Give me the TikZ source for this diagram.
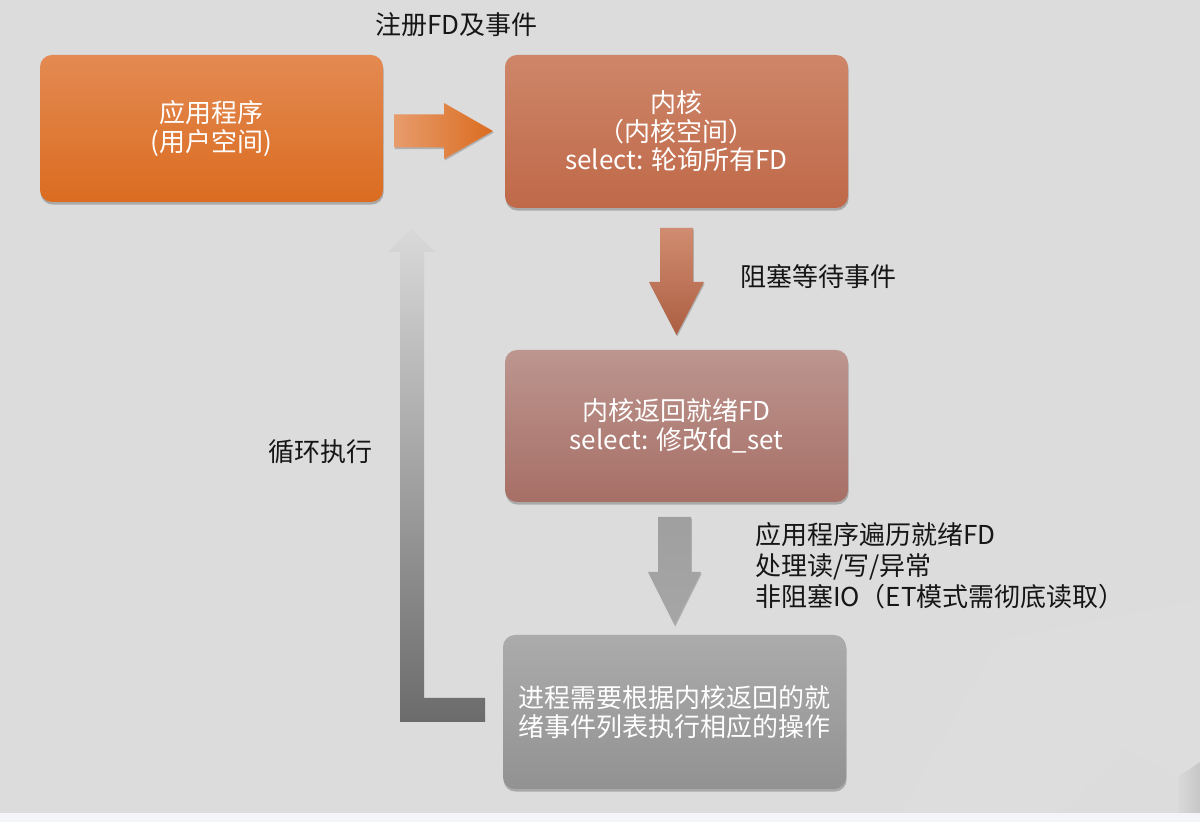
\documentclass[tikz,border=0pt]{standalone}
\usepackage{fontspec}
\setmainfont{Noto Sans CJK SC}
\usetikzlibrary{calc,shadows}
\definecolor{bgc}{HTML}{DCDCDC}
\definecolor{stripc}{HTML}{F4F5F8}
\definecolor{oTop}{HTML}{E38A52}
\definecolor{oBot}{HTML}{DB6C20}
\definecolor{kTop}{HTML}{CE8669}
\definecolor{kBot}{HTML}{BF6949}
\definecolor{sTop}{HTML}{BC968F}
\definecolor{sBot}{HTML}{A76F66}
\definecolor{gTop}{HTML}{ABABAB}
\definecolor{gBot}{HTML}{929292}
\definecolor{txt}{HTML}{161616}
\tikzset{
  boxbase/.style={rectangle, rounded corners=6pt, inner sep=0pt, outer sep=0pt,
    minimum width=171.5pt, text=white, align=center,
    font=\fontsize{13pt}{14.25pt}\selectfont,
    drop shadow={shadow xshift=0.3pt, shadow yshift=-1.3pt, opacity=0.35, fill=black!70}},
  lbl/.style={inner sep=0pt, outer sep=0pt, text=txt, align=left,
    font=\fontsize{13pt}{15.5pt}\selectfont},
  arrshadow/.style={drop shadow={shadow xshift=0.4pt, shadow yshift=-0.8pt, opacity=0.3, fill=black!70}}
}
\begin{document}
\begin{tikzpicture}[x=0.5pt,y=-0.5pt]
  % background
  \fill[bgc] (0,0) rectangle (1200,822);
  \fill[white, opacity=0.05] (900,813) -- (1000,640) -- (1200,600) -- (1200,762) -- (1178,777) -- (1123,747) -- (1060,813) -- cycle;
  \path[left color=black!15, right color=black!22] (1178,777) -- (1200,762) -- (1200,813) -- (1178,813) -- cycle;
  \fill[stripc] (0,813) rectangle (1200,822);
  \useasboundingbox (0,0) rectangle (1200,822);

  % boxes
  \node[boxbase, minimum height=73.5pt, top color=oTop, bottom color=oBot]
    (app) at (211.5,128.5) {应用程序\\(用户空间)};
  \node[boxbase, minimum height=76.5pt, top color=kTop, bottom color=kBot]
    (kern) at (676.5,131.5) {内核\\（内核空间）\\select: 轮询所有FD};
  \node[boxbase, minimum height=76pt, top color=sTop, bottom color=sBot]
    (sel) at (676.5,426) {内核返回就绪FD\\select: 修改fd\_set};
  \node[boxbase, minimum height=77pt, top color=gTop, bottom color=gBot]
    (proc) at (674.5,712) {进程需要根据内核返回的就\\绪事件列表执行相应的操作};

  % right block arrow app -> kern
  \path (app.east) ++(11,2.5) coordinate (r0);
  \path[arrshadow, left color=oTop!85!white, right color=oBot]
    ($(r0)+(0,-16.5)$) -- ++(50,0) -- ++(0,-11.5) -- ++(49,28)
    -- ++(-49,28) -- ++(0,-11.5) -- ++(-50,0) -- cycle;

  % down block arrow kern -> sel
  \path[arrshadow, top color=kTop!95!white, bottom color=kBot!90!black]
    ($(kern.south)+(-16.5,20)$) -- ++(33,0) -- ++(0,54) -- ++(11,0)
    -- ++(-27.5,53) -- ++(-27.5,-53) -- ++(11,0) -- cycle;

  % down block arrow sel -> proc
  \path[arrshadow, top color=gray!75, bottom color=gray!70]
    ($(sel.south)+(-18.5,15)$) -- ++(33,0) -- ++(0,55) -- ++(10,0)
    -- ++(-26.5,53) -- ++(-26.5,-53) -- ++(10,0) -- cycle;

  % loop arrow proc -> app
  \path (proc.west) ++(-18,-14) coordinate (l0);
  \path[top color=black!15, bottom color=black!58]
    (l0) -- ++(0,24) -- ++(-85,0) -- ++(0,-470) -- ++(-12,0)
    -- ++(23.5,-23) -- ++(23.5,23) -- ++(-11,0) -- ++(0,446) -- cycle;

  % labels
  \node[lbl, anchor=west] (lreg) at (375,25) {注册FD及事件};
  \node[lbl, anchor=west] (lblk) at (740,277) {阻塞等待事件};
  \node[lbl, anchor=west] (lapp) at (755,566) {应用程序遍历就绪FD\\处理读/写/异常\\非阻塞IO（ET模式需彻底读取）};
  \node[lbl, anchor=center] (lloop) at (320,452) {循环执行};
\end{tikzpicture}
\end{document}
